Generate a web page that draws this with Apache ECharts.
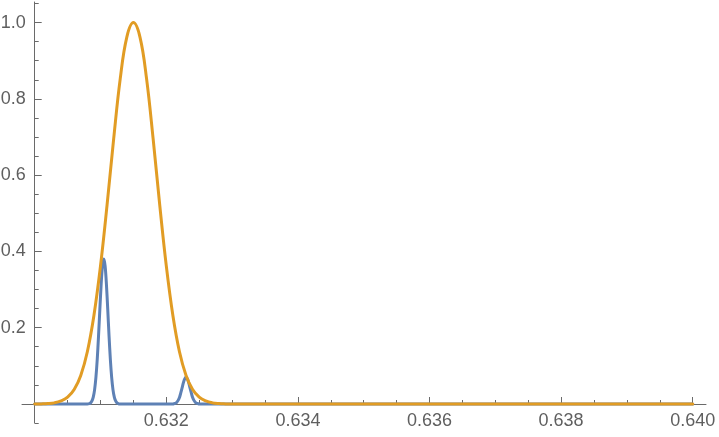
<!DOCTYPE html>
<html>
<head>
<meta charset="utf-8">
<script src="https://cdn.jsdelivr.net/npm/echarts@6/dist/echarts.min.js"></script>
<style>
  html, body { margin: 0; padding: 0; background: #ffffff; }
  #chart { width: 719px; height: 437px; }
</style>
</head>
<body>
<div id="chart"></div>
<script>
// ---- data ----
const orangeX = [0.6300, 0.6301, 0.6302, 0.6303, 0.6304, 0.6305, 0.6306, 0.6307, 0.6308, 0.6309,
                 0.6310, 0.6311, 0.6312, 0.6313, 0.6314, 0.6315, 0.6316, 0.6317, 0.6318, 0.6319,
                 0.6320, 0.6321, 0.6322, 0.6323, 0.6324, 0.6325, 0.6326, 0.6327, 0.6328, 0.6329,
                 0.6330, 0.6400];
const orangeY = [0, 0.0003, 0.001, 0.003, 0.008, 0.018, 0.038, 0.075, 0.137, 0.232,
                 0.362, 0.522, 0.695, 0.853, 0.962, 1.000, 0.962, 0.853, 0.695, 0.522,
                 0.362, 0.232, 0.137, 0.075, 0.038, 0.018, 0.008, 0.003, 0.001, 0.0003,
                 0, 0];

const blueX = [0.6300, 0.6308,
               0.63081, 0.63083, 0.63085, 0.63087, 0.63089, 0.63091, 0.63093, 0.63095, 0.63097, 0.63099,
               0.63101, 0.63103, 0.63105, 0.63107, 0.63109, 0.63111, 0.63113, 0.63115, 0.63117, 0.63119,
               0.63121, 0.63123, 0.63125, 0.63127, 0.63129,
               0.6320,
               0.63210, 0.63212, 0.63214, 0.63216, 0.63218, 0.63220, 0.63222, 0.63224, 0.63226, 0.63228,
               0.63230, 0.63232, 0.63234, 0.63236, 0.63238, 0.63240, 0.63242, 0.63244, 0.63246, 0.63248,
               0.63250,
               0.6400];
const blueY = [0, 0,
               0, 0.001, 0.003, 0.008, 0.018, 0.037, 0.069, 0.116, 0.178, 0.248,
               0.314, 0.362, 0.380, 0.362, 0.314, 0.248, 0.178, 0.116, 0.069, 0.037,
               0.018, 0.008, 0.003, 0.001, 0,
               0,
               0, 0.001, 0.002, 0.0047, 0.0095, 0.017, 0.029, 0.042, 0.056, 0.066,
               0.070, 0.066, 0.056, 0.042, 0.029, 0.017, 0.0095, 0.0047, 0.002, 0.001,
               0,
               0];

const xLabelValues = [0.632, 0.634, 0.636, 0.638, 0.640];
const xMajorTicks = [0.632, 0.634, 0.636, 0.638, 0.640];
const xMinorTicks = [0.6305, 0.6310, 0.6315, 0.6325, 0.6330, 0.6335, 0.6345, 0.6350, 0.6355,
                     0.6365, 0.6370, 0.6375, 0.6385, 0.6390, 0.6395];
const yLabelValues = [0.2, 0.4, 0.6, 0.8, 1.0];
const yMajorTicks = [0, 0.2, 0.4, 0.6, 0.8, 1.0];
const yMinorTicks = [-0.05, 0.05, 0.1, 0.15, 0.25, 0.3, 0.35, 0.45, 0.5, 0.55,
                     0.65, 0.7, 0.75, 0.85, 0.9, 0.95, 1.05];

// ---- chart ----
const AXIS_COLOR = '#6a6a6a';
const LABEL_COLOR = '#5f5f5f';
const FONT = 'Liberation Sans, Arial, Helvetica, sans-serif';
const X_MIN = 0.629807, X_MAX = 0.640202;
const Y_MIN = -0.05, Y_MAX = 1.054;
const GRID_L = 22, GRID_R = 13, GRID_T = 2;

function zip(xs, ys) { return xs.map((x, i) => [x, ys[i]]); }

const hiddenAxis = { show: false, axisLine: { show: false }, axisTick: { show: false },
                     axisLabel: { show: false }, splitLine: { show: false } };

const chart = echarts.init(document.getElementById('chart'), null, { renderer: 'canvas' });
chart.setOption({
  animation: false,
  backgroundColor: '#ffffff',
  grid: [
    { left: GRID_L, right: GRID_R, top: GRID_T, bottom: 33, containLabel: false, outerBoundsMode: 'none' },
    { left: GRID_L, right: GRID_R, top: GRID_T, bottom: 14, containLabel: false, outerBoundsMode: 'none' }
  ],
  xAxis: [
    {
      gridIndex: 0, type: 'value', min: X_MIN, max: X_MAX, position: 'bottom',
      axisLine: { show: true, onZero: false, lineStyle: { color: AXIS_COLOR, width: 1 } },
      axisTick: { show: true, inside: true, length: 7, customValues: xMajorTicks,
                  lineStyle: { color: AXIS_COLOR, width: 1 } },
      axisLabel: { show: true, customValues: xLabelValues, margin: 8,
                   formatter: v => Number(v).toFixed(3),
                   color: LABEL_COLOR, fontSize: 18, fontFamily: FONT },
      splitLine: { show: false }
    },
    {
      gridIndex: 0, type: 'value', min: X_MIN, max: X_MAX, position: 'bottom',
      axisLine: { show: false, onZero: false },
      axisTick: { show: true, inside: true, length: 4, customValues: xMinorTicks,
                  lineStyle: { color: AXIS_COLOR, width: 1 } },
      axisLabel: { show: false },
      splitLine: { show: false }
    },
    Object.assign({ gridIndex: 1, type: 'value', min: X_MIN, max: X_MAX }, hiddenAxis)
  ],
  yAxis: [
    Object.assign({ gridIndex: 0, type: 'value', min: 0, max: Y_MAX }, hiddenAxis),
    {
      gridIndex: 1, type: 'value', min: Y_MIN, max: Y_MAX, position: 'left', offset: -12.7,
      axisLine: { show: true, onZero: false, lineStyle: { color: AXIS_COLOR, width: 1 } },
      axisTick: { show: true, inside: true, length: 7, customValues: yMajorTicks,
                  lineStyle: { color: AXIS_COLOR, width: 1 } },
      axisLabel: { show: true, customValues: yLabelValues, margin: 9,
                   formatter: v => Number(v).toFixed(1),
                   color: LABEL_COLOR, fontSize: 18, fontFamily: FONT },
      splitLine: { show: false }
    },
    {
      gridIndex: 1, type: 'value', min: Y_MIN, max: Y_MAX, position: 'left', offset: -12.7,
      axisLine: { show: false, onZero: false },
      axisTick: { show: true, inside: true, length: 4, customValues: yMinorTicks,
                  lineStyle: { color: AXIS_COLOR, width: 1 } },
      axisLabel: { show: false },
      splitLine: { show: false }
    }
  ],
  series: [
    {
      name: 'blue', type: 'line', xAxisIndex: 0, yAxisIndex: 0,
      data: zip(blueX, blueY), showSymbol: false, smooth: 0.3, clip: false,
      lineStyle: { color: '#5E81B5', width: 3, cap: 'round', join: 'round' },
      itemStyle: { color: '#5E81B5' }, z: 2
    },
    {
      name: 'orange', type: 'line', xAxisIndex: 0, yAxisIndex: 0,
      data: zip(orangeX, orangeY), showSymbol: false, smooth: 0.4, clip: false,
      lineStyle: { color: '#E19C24', width: 3, cap: 'round', join: 'round' },
      itemStyle: { color: '#E19C24' }, z: 3
    }
  ]
});
</script>
</body>
</html>
